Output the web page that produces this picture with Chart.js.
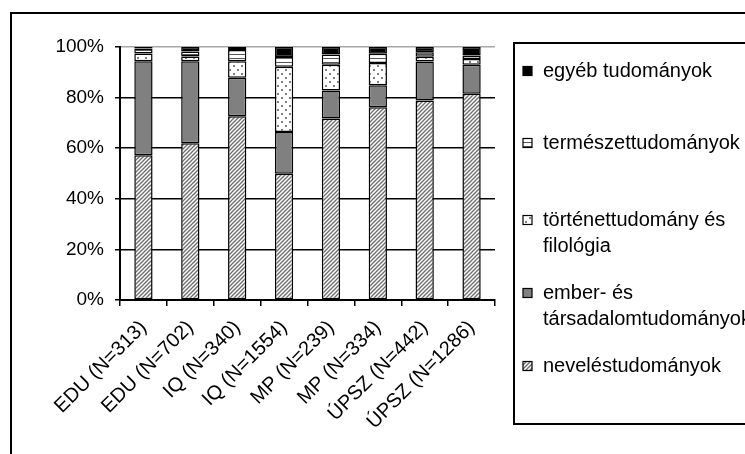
<!DOCTYPE html>
<html><head><meta charset="utf-8">
<script src="https://cdn.jsdelivr.net/npm/chart.js@4"></script>
<style>html,body{margin:0;padding:0;background:#fff;overflow:hidden}#wrap{position:relative;width:745px;height:454px}</style>
</head><body><div id="wrap"><canvas id="c" width="745" height="454"></canvas></div>
<script>
const categories = ['EDU (N=313)', 'EDU (N=702)', 'IQ (N=340)', 'IQ (N=1554)', 'MP (N=239)', 'MP (N=334)', 'ÚPSZ (N=442)', 'ÚPSZ (N=1286)'];
const neveles = [57.2, 62.0, 72.6, 49.9, 71.7, 76.2, 78.9, 81.5];
const emberTarsadalom = [37.2, 32.4, 15.2, 16.5, 11.1, 8.7, 15.4, 11.5];
const tortenetFilologia = [3.0, 1.8, 6.6, 25.8, 10.2, 8.8, 1.8, 2.3];
const termeszet = [2.0, 2.0, 4.4, 3.8, 4.0, 3.6, 1.8, 1.3];
const egyeb = [0.6, 1.8, 1.2, 4.0, 3.0, 2.7, 2.1, 3.4];
const seriesNames = ['neveléstudományok', 'ember- és társadalomtudományok', 'történettudomány és filológia', 'természettudományok', 'egyéb tudományok'];
const legendLines = [['egyéb tudományok'], ['természettudományok'], ['történettudomány és', 'filológia'], ['ember- és', 'társadalomtudományok'], ['neveléstudományok']];
const yTickValues = [0, 20, 40, 60, 80, 100];

const FONT = "'Liberation Sans', Arial, sans-serif";
function makePattern(size, draw) {
  const c = document.createElement('canvas');
  c.width = size; c.height = size;
  const g = c.getContext('2d');
  draw(g, size);
  return document.getElementById('c').getContext('2d').createPattern(c, 'repeat');
}
const hatch = makePattern(4, (g, s) => {
  g.fillStyle = '#fff'; g.fillRect(0, 0, s, s);
  g.strokeStyle = '#6e6e6e'; g.lineWidth = 1.3;
  g.beginPath(); g.moveTo(-1, s + 1); g.lineTo(s + 1, -1); g.stroke();
  g.beginPath(); g.moveTo(-1, 1); g.lineTo(1, -1); g.stroke();
  g.beginPath(); g.moveTo(s - 1, s + 1); g.lineTo(s + 1, s - 1); g.stroke();
});
const dots = makePattern(8, (g, s) => {
  g.fillStyle = '#fff'; g.fillRect(0, 0, s, s);
  g.fillStyle = '#808080';
  g.fillRect(1, 1, 2, 2); g.fillRect(5, 5, 2, 2);
});
const hlines = makePattern(4, (g, s) => {
  g.fillStyle = '#fff'; g.fillRect(0, 0, s, s);
  g.fillStyle = '#555'; g.fillRect(0, 2, s, 1);
});
const fills = [hatch, '#808080', dots, hlines, '#000'];
const seriesData = [neveles, emberTarsadalom, tortenetFilologia, termeszet, egyeb];

const frameLegend = {
  id: 'frameLegend',
  afterDraw(chart) {
    const ctx = chart.ctx;
    ctx.save();
    ctx.strokeStyle = '#000'; ctx.lineWidth = 2;
    ctx.strokeRect(11, 13, 800, 500);
    ctx.strokeRect(514, 43, 300, 381);
    const centers = [[71], [143], [220, 246], [293, 319], [366]];
    const fillIdx = [4, 3, 2, 1, 0];
    ctx.font = '20px ' + FONT;
    ctx.textBaseline = 'middle';
    legendLines.forEach((lines, i) => {
      const y0 = centers[i][0];
      ctx.fillStyle = fills[fillIdx[i]];
      ctx.fillRect(523, y0 - 4.5, 9, 9);
      ctx.lineWidth = 1.2; ctx.strokeStyle = '#000';
      ctx.strokeRect(523, y0 - 4.5, 9, 9);
      ctx.fillStyle = '#000';
      lines.forEach((t, j) => ctx.fillText(t, 543, centers[i][j]));
    });
    ctx.restore();
  }
};

new Chart(document.getElementById('c'), {
  type: 'bar',
  data: {
    labels: categories,
    datasets: seriesData.map((d, i) => ({
      label: seriesNames[i],
      data: d,
      backgroundColor: fills[i],
      borderColor: '#000',
      borderWidth: 1.5,
      borderSkipped: false,
      barPercentage: 0.39,
      categoryPercentage: 1
    }))
  },
  options: {
    responsive: false,
    animation: false,
    layout: { padding: { top: 47, right: 250, left: 0, bottom: 0 } },
    plugins: { legend: { display: false }, tooltip: { enabled: false } },
    scales: {
      x: {
        stacked: true,
        afterFit(s) { s.height = 154; },
        grid: { display: true, drawOnChartArea: false, drawTicks: true, tickLength: 6, color: '#000', lineWidth: 1.5, offset: true },
        border: { color: '#000', width: 2 },
        ticks: { color: '#000', font: { family: FONT, size: 20 }, minRotation: 45, maxRotation: 45, padding: 10 }
      },
      y: {
        stacked: true,
        min: 0, max: 100,
        afterFit(s) { s.width = 120; },
        afterBuildTicks(s) { s.ticks = yTickValues.map(v => ({ value: v })); },
        grid: {
          color: c => (c.tick && c.tick.value === 100) ? '#a8a8a8' : '#000',
          tickColor: '#000',
          lineWidth: 1.5, tickLength: 5
        },
        border: { color: '#000', width: 2 },
        ticks: { color: '#000', font: { family: FONT, size: 19 }, padding: 11, callback: v => v + '%' }
      }
    }
  },
  plugins: [frameLegend]
});
</script>
</body></html>
